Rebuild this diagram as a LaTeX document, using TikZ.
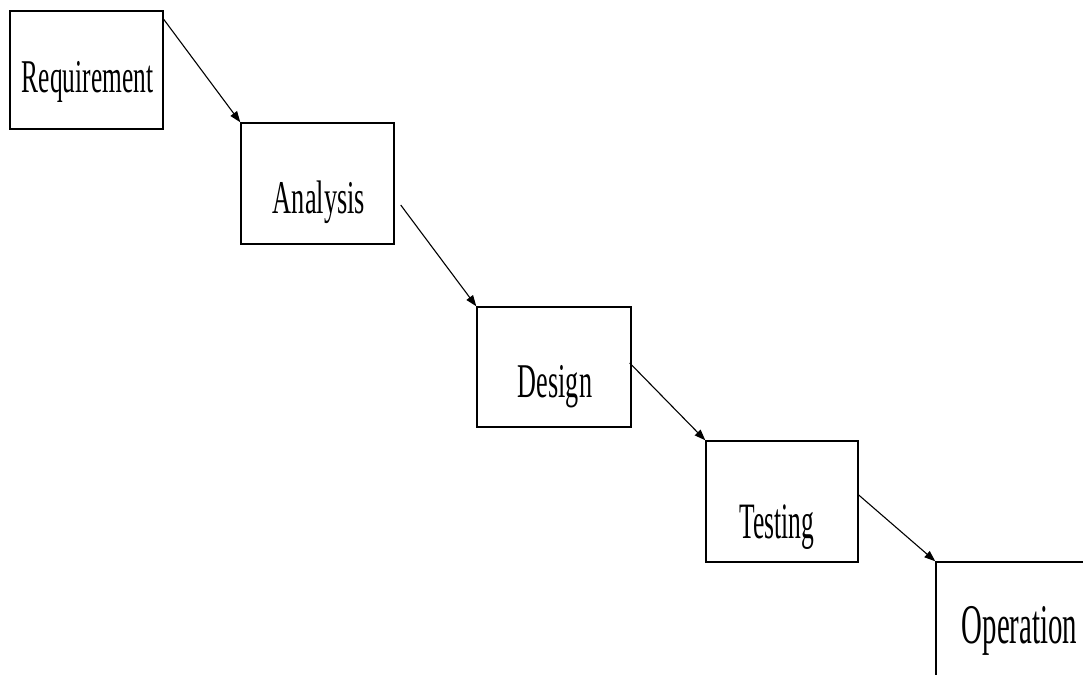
\documentclass[tikz,border=0pt]{standalone}
\usepackage{graphicx}
\usepackage{fontspec}
\setmainfont{Liberation Serif}
\usetikzlibrary{calc,arrows.meta}
\newcommand\mylbl[3]{\fontsize{#1}{#1}\selectfont\scalebox{#2}[1]{#3}}
\begin{document}
\begin{tikzpicture}[x=1pt,y=-1pt,
  box/.style={draw=black,line width=1.4pt,fill=white,inner sep=0pt,anchor=center},
  lbl/.style={anchor=base,inner sep=0pt},
  arr/.style={line width=1.1pt,-{Triangle[length=11pt,width=8pt]}}]
\clip (0,0) rectangle (1083,674);
\fill[white] (0,0) rectangle (1083,674);
% boxes
\node[box,minimum width=153pt,minimum height=118pt] (req) at (86.5,70) {};
\node[box,minimum width=153pt,minimum height=121pt] (anl) at (317.5,183.5) {};
\node[box,minimum width=154pt,minimum height=120pt] (des) at (554,367) {};
\node[box,minimum width=152pt,minimum height=121pt] (tst) at (782,501.5) {};
\node[box,minimum width=154pt,minimum height=122pt] (opr) at (1013,623) {};
% labels
\node[lbl] (reqt) at (87.5,93) {\mylbl{47}{0.54}{Requirement}};
\node[lbl] (anlt) at (319,213) {\mylbl{47}{0.56}{Analysis}};
\node[lbl] (dest) at (555,397) {\mylbl{48.5}{0.54}{Design}};
\node[lbl] (tstt) at (777,538) {\mylbl{51}{0.50}{Testing}};
\node[lbl] (oprt) at (1019.5,643) {\mylbl{56}{0.515}{Operation}};
% arrow starts
\coordinate (s1) at ($(req.north east)+(0,9)$);
\coordinate (s2) at ($(anl.east)+(6,21.5)$);
\coordinate (s3) at ($(des.east)+(-2,-4)$);
\coordinate (s4) at ($(tst.east)+(0,-6.5)$);
% arrows
\draw[arr] (s1) -- (anl.north west);
\draw[arr] (s2) -- (des.north west);
\draw[arr] (s3) -- (tst.north west);
\draw[arr] (s4) -- (opr.north west);
\end{tikzpicture}
\end{document}
